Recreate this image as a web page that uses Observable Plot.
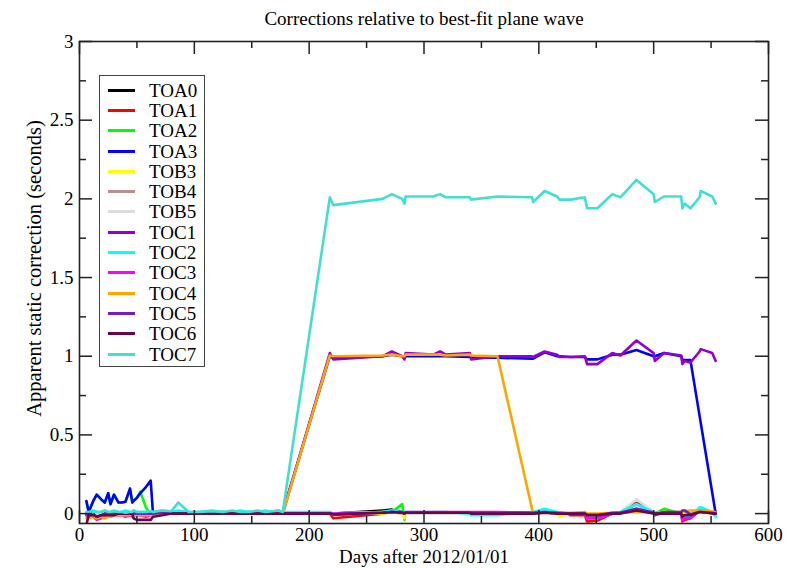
<!DOCTYPE html>
<html>
<head>
<meta charset="utf-8">
<script src="https://cdn.jsdelivr.net/npm/d3@7"></script>
<script src="https://cdn.jsdelivr.net/npm/@observablehq/plot@0.6"></script>
<style>
  html, body { margin: 0; padding: 0; background: #fff; }
  #wrap { position: relative; width: 807px; height: 568px; font-family: "Liberation Serif", "Times New Roman", serif; }
  #legend { position: absolute; left: 99px; top: 75px; width: 104px; height: 286px; border: 1.5px solid #444; background: #fff; padding-top: 4px; font-family: "Liberation Serif", serif; }
  .row { height: 20.3px; display: flex; align-items: center; }
  .swatch { width: 27px; height: 0; border-top: 3px solid #000; margin-left: 8px; margin-right: 14px; }
  .lab { font-family: "Liberation Serif", serif; font-size: 19px; line-height: 19px; color: #000; }
</style>
</head>
<body>
<div id="wrap"></div>
<script>
// ---- data ----
const days = [6, 8, 12, 15, 19, 22, 25, 27, 30, 34, 37, 40, 44, 46, 47, 50, 53, 58, 62, 64,
  72, 80, 86, 95, 105, 115, 125, 133, 140, 148, 155, 162, 168, 173, 177,
  218, 221, 264, 272, 281, 283, 284, 308, 314, 319, 340, 341, 364, 394, 395,
  405, 416, 418, 428, 440, 442, 451, 464, 471, 485, 500, 501, 509, 524, 525,
  527, 532, 540, 541, 551, 554];

const seriesNames = ["TOA0", "TOA1", "TOA2", "TOA3", "TOB3", "TOB4", "TOB5",
  "TOC1", "TOC2", "TOC3", "TOC4", "TOC5", "TOC6", "TOC7"];
const seriesColors = ["#000000", "#ff0000", "#00ff00", "#0000ff", "#ffff00", "#bc8f8f", "#dcdcdc",
  "#9400d3", "#00ffff", "#ff00ff", "#ffa500", "#7221bc", "#670748", "#40e0d0"];

const TOA0 = [0,0,0.01,0,0, 0.01,0,0,0.01,0, 0,0.01,0,0,0.01, 0,0,0,0,0, 0.01,0,0,0.01,0, 0,0.01,0,0,0.01, 0,0.01,0,0.01,0,
  0,0,0.02,0.025,0.01, 0.005,0.005,0.005,0.005,0.005, 0.005,0.005,0.005,0.005,0.005, 0.01,0.005,0,0,0, -0.01,-0.01,0,0.005,0.02, 0.005,0,0.005,0,-0.01, -0.005,0,0.01,0.01,0.005, 0];
const TOA1 = [-0.01,-0.01,0,-0.01,0, 0,-0.01,0,0,-0.01, 0,0,-0.01,0,0, 0,-0.01,0,0,0, 0,0,0,0,0, 0,0,0,0,0, 0,0,0,0,0,
  0,-0.03,0,0.01,0, 0,0,0,0,0, 0,0,0,0,0, 0.01,0,0,-0.01,-0.01, -0.05,-0.045,0,0.01,0.07, 0.01,0,0.01,0,-0.05, -0.04,-0.03,0.02,0.02,0.01, -0.01];
const TOA2 = [0.08,0.01,0.08,0.12,0.09, 0.07,0.13,0.06,0.12,0.07, 0.07,0.075,0.15,0.07,0.08, 0.10,0.14,0.035,0,0, 0.01,0,0,0,0.01, 0,0,0.01,0,0, 0.01,0,0,0.01,0,
  0,0,0.01,0.01,0.06, -0.04,0,0,0,0, 0,0,0,0,0, 0.01,0,0.01,0,0, -0.01,-0.01,0,0,0.03, 0,0,0.03,0,-0.01, 0,0,0.02,0.01,0.01, 0];
const TOA3 = [0.08,0.01,0.08,0.12,0.09, 0.07,0.13,0.06,0.12,0.07, 0.07,0.075,0.16,0.07,0.08, 0.10,0.13,0.17,0.21,0, 0.01,0,0.01,0,0, 0.01,0,0.01,0,0, 0.01,0,0.01,0,0.01,
  1.0,0.99,1.0,1.01,1.0, 0.99,1.0,1.0,1.0,1.0, 0.995,0.99,0.99,0.985,0.985, 1.025,1.0,1.0,0.995,0.995, 0.98,0.98,1.01,1.01,1.04, 1.0,1.0,1.02,1.0,0.975, 0.975,0.975,null,null,null, 0.0];
const TOB3 = [0,0,0,0.01,0, 0,0,0.01,0,0, 0,0,0.01,0,0, 0,0,0,0,0, 0,0.01,0,0,0, 0,0.01,0,0,0, 0.01,0,0,0,0,
  0,0,0,0.01,0, -0.03,0,0,0,0, 0,0,0,0,0, 0.01,0,-0.02,0,0, -0.01,-0.01,0,0,0.03, 0,0,0.01,0,-0.01, 0,0,0.01,0.01,0, 0];
const TOB4 = [-0.01,0,0,0,0.01, 0,0,0,0,0, 0.01,0,0,0,0, 0,0,0.01,0,0, 0,0,0.01,0,0, 0,0,0,0.01,0, 0,0.01,0,0,0,
  0,-0.01,0.01,0.02,0, 0,0,0,0,0, 0,0,0,0,0, 0.01,0,0,0,0, -0.02,-0.02,0,0,0.06, 0,0,0,0,-0.03, -0.02,-0.01,0.02,0.02,0, -0.01];
const TOB5 = [0,0,0.01,0,0, 0,0.01,0,0,0, 0,0.01,0,0,0, 0,0.01,0,0,0, 0,0,0,0.01,0, 0,0,0.01,0,0, 0,0,0.01,0,0,
  0,0,0.01,0.01,0, 0,0,0,0,0, 0,0,0,0,0, 0.02,0,0,0,0, -0.02,-0.02,0,0.01,0.09, 0.01,0,0.01,0,-0.02, -0.01,-0.01,0.03,0.03,0.01, -0.01];
const TOC1 = [0,-0.01,0,-0.03,-0.02, 0,0,-0.01,0,0, 0,-0.01,0,0,0, 0,0,0,0,0, 0,0.01,0,0,0, 0.01,0,0,0,0, 0,0.01,0,0,0,
  1.02,0.98,1.0,1.03,1.0, 0.98,1.02,1.01,1.03,1.01, 1.02,0.98,1.0,1.0,0.995, 1.03,1.01,0.995,0.995,1.0, 0.95,0.95,1.02,1.005,1.10, 1.02,0.97,1.02,1.005,0.95, 0.97,0.96,1.03,1.045,1.02, 0.97];
const TOC2 = [0.01,0.01,0.02,0.01,0.01, 0.02,0.01,0.01,0.02,0.01, 0.01,0.02,0.01,0.01,0.02, 0.01,0.01,0.01,0.01,0.01, 0.02,0.01,0.02,0.01,0.01, 0.02,0.01,0.01,0.02,0.01, 0.01,0.02,0.01,0.02,0.01,
  0.01,0,0.01,0.02,0.01, 0.01,0.01,0.01,0.01,0.01, 0,-0.01,-0.01,0.01,0.01, 0.03,0.01,0,0,0, -0.03,-0.03,0,0.01,0.06, 0.01,-0.01,0.01,0,-0.03, -0.02,-0.02,0.04,0.04,0.01, -0.02];
const TOC3 = [-0.01,-0.02,-0.02,-0.04,-0.03, -0.02,-0.01,-0.02,-0.01,-0.01, -0.01,-0.02,-0.01,-0.02,-0.01, -0.01,-0.01,-0.02,-0.01,0, 0,0,0,0,0, 0,0,0,0,0, 0,0,0,0,0,
  0,0,0.005,0.01,0.01, 0.005,0.01,0.01,0.01,0.01, 0.01,0.01,0.01,0.005,0.005, 0.01,0.005,0,0,0, -0.03,-0.03,0,0.005,0.03, 0.005,-0.01,0.005,0,-0.045, -0.03,-0.03,0.02,0.02,0.01, 0];
const TOC4 = [-0.03,-0.03,-0.02,-0.03,-0.02, -0.03,-0.02,-0.02,-0.01,-0.01, -0.01,-0.01,-0.01,-0.01,-0.01, -0.01,-0.01,-0.01,-0.01,0, 0,0,0,0,0, 0,0,0,0,0, 0,0,0,0,0,
  1.005,1.0,1.005,1.01,1.0, 1.0,1.01,1.01,1.01,1.005, 1.01,1.005,1.0,null,0, 0.005,0.005,0,0.005,0.01, 0,0,0.005,0.005,0.01, 0.005,0.005,0.01,0.01,0.01, 0.015,0.02,0.02,0.02,0.015, 0.005];
const TOC5 = [0,-0.01,0,-0.02,-0.01, 0,0,0,0,0, 0,0,0,0,0, 0,0,0,0,0, 0.005,0,0,0,0, 0,0,0,0,0, 0,0,0,0,0,
  0,-0.005,0.005,0.01,0.005, 0,0.005,0.005,0.005,0.005, 0.005,0.005,0.005,0.005,0.005, 0.01,0.005,0,0,0, -0.01,-0.01,0.005,0.005,0.03, 0.005,-0.005,0.01,0.01,0.02, 0.02,-0.005,0.01,0.01,0.005, 0];
const TOC6 = [-0.07,-0.01,-0.01,-0.02,-0.01, -0.01,-0.01,-0.01,-0.01,0, 0,0,0,0,-0.03, -0.04,-0.04,-0.04,-0.04,-0.02, -0.01,0,0,0,0, 0,0,0,0,0, 0,0,0,0,0,
  0,-0.005,0.005,0.01,0.005, 0,0.005,0.005,0.005,0.005, 0.005,0,0,0,0, 0.005,0,0,0,0, -0.01,-0.01,0,0,0.02, 0,0,0,0,-0.02, -0.01,-0.01,0.01,0.01,0, 0];
const TOC7 = [0.01,0.005,0.01,0.01,0.01, 0.02,0.01,0.01,0.015,0.01, 0.01,0.005,0.01,0.01,0.02, 0.01,0.01,0.01,0.015,0.01, 0.02,0.015,0.07,0.01,0.01, 0.015,0.01,0.02,0.01,0.01, 0.02,0.01,0.015,0.02,0.01,
  2.01,1.96,2.0,2.03,2.0, 1.97,2.015,2.015,2.03,2.01, 2.01,1.995,2.015,2.01,1.98, 2.05,2.015,1.995,1.995,2.01, 1.94,1.94,2.03,2.01,2.12, 2.03,1.98,2.015,2.015,1.94, 1.97,1.94,2.01,2.05,2.015, 1.97];

const xMajor = [0, 100, 200, 300, 400, 500, 600];
const xTickLabels = ["0", "100", "200", "300", "400", "500", "600"];
const xMinor = [50, 150, 250, 350, 450, 550];
const yMajor = [0, 0.5, 1, 1.5, 2, 2.5, 3];
const yTickLabels = ["0", "0.5", "1", "1.5", "2", "2.5", "3"];
const yMinor = [0.25, 0.75, 1.25, 1.75, 2.25, 2.75];

const titleText = "Corrections relative to best-fit plane wave";
const xLabel = "Days after 2012/01/01";
const yLabel = "Apparent static correction (seconds)";

// ---- build table ----
const seriesValues = [TOA0, TOA1, TOA2, TOA3, TOB3, TOB4, TOB5, TOC1, TOC2, TOC3, TOC4, TOC5, TOC6, TOC7];
seriesValues.forEach((arr, s) => { if (arr.length !== days.length) throw new Error(seriesNames[s] + " has " + arr.length); });
const rows = seriesNames.flatMap((name, s) =>
  days.map((d, i) => ({day: d, value: seriesValues[s][i], series: name})).filter(r => r.value !== null));

// ---- layout ----
const W = 807, H = 568, mT = 41, mB = 45, mL = 79, mR = 39;
const innerW = W - mL - mR, innerH = H - mT - mB;
const majorLen = 13, minorLen = 7;
const tickStyle = {stroke: "#222", strokeWidth: 1.5};

const chart = Plot.plot({
  width: W, height: H,
  marginTop: mT, marginBottom: mB, marginLeft: mL, marginRight: mR,
  style: {fontFamily: "'Liberation Serif', 'Times New Roman', serif", background: "white", color: "black", overflow: "visible"},
  x: {domain: [0, 600]},
  y: {domain: [-0.063, 3]},
  color: {domain: seriesNames, range: seriesColors},
  marks: [
    Plot.line(rows, {x: "day", y: "value", z: "series", stroke: "series", strokeWidth: 2.6, clip: true}),
    // ticks (inward, all four sides)
    Plot.tickX(xMajor, {x: d => d, insetTop: innerH - majorLen, ...tickStyle}),
    Plot.tickX(xMinor, {x: d => d, insetTop: innerH - minorLen, ...tickStyle}),
    Plot.tickX(xMajor, {x: d => d, insetBottom: innerH - majorLen, ...tickStyle}),
    Plot.tickX(xMinor, {x: d => d, insetBottom: innerH - minorLen, ...tickStyle}),
    Plot.tickY(yMajor, {y: d => d, insetRight: innerW - majorLen, ...tickStyle}),
    Plot.tickY(yMinor, {y: d => d, insetRight: innerW - minorLen, ...tickStyle}),
    Plot.tickY(yMajor, {y: d => d, insetLeft: innerW - majorLen, ...tickStyle}),
    Plot.tickY(yMinor, {y: d => d, insetLeft: innerW - minorLen, ...tickStyle}),
    Plot.frame({stroke: "#222", strokeWidth: 1.6}),
    Plot.axisX(xMajor, {tickSize: 0, tickPadding: 4, fontSize: 19, label: null,
      tickFormat: d => xTickLabels[xMajor.indexOf(d)]}),
    Plot.axisY(yMajor, {tickSize: 0, tickPadding: 6, fontSize: 19, label: null,
      tickFormat: d => yTickLabels[yMajor.indexOf(d)]}),
    Plot.text([titleText], {frameAnchor: "top", lineAnchor: "bottom", dy: -17, fontSize: 19, fill: "black"}),
    Plot.text([xLabel], {frameAnchor: "bottom", lineAnchor: "bottom", dy: 39, fontSize: 19, fill: "black"}),
    Plot.text([yLabel], {frameAnchor: "left", textAnchor: "middle", lineAnchor: "middle", rotate: -90, dx: -45, dy: -14, fontSize: 20.5, fill: "black"})
  ]
});

const wrap = document.getElementById("wrap");
wrap.appendChild(chart);

// ---- legend ----
const legend = document.createElement("div");
legend.id = "legend";
seriesNames.forEach((name, i) => {
  const row = document.createElement("div");
  row.className = "row";
  const sw = document.createElement("span");
  sw.className = "swatch";
  sw.style.borderTopColor = seriesColors[i];
  const lab = document.createElement("span");
  lab.className = "lab";
  lab.textContent = name;
  row.appendChild(sw);
  row.appendChild(lab);
  legend.appendChild(row);
});
wrap.appendChild(legend);
</script>
</body>
</html>
